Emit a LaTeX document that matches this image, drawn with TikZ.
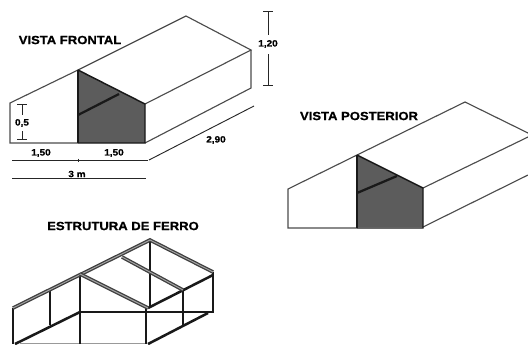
\documentclass[tikz,border=0pt]{standalone}
\usepackage{fontspec}
\setmainfont{Liberation Sans}
\newfontfamily\blackfont[FakeStretch=1.1,BoldFeatures={FakeBold=0.8}]{Liberation Sans}
\definecolor{panelgray}{gray}{0.36}
\definecolor{linegray}{gray}{0.3}
\tikzset{
  outline/.style={draw=linegray,line width=0.85pt},
  heavy/.style={draw=black!90,line width=1.7pt},
  title/.style={font=\blackfont\bfseries\fontsize{8.9}{10}\selectfont,inner sep=0pt},
  dimtext/.style={font=\blackfont\bfseries\fontsize{6.8}{8}\selectfont,inner sep=0pt},
  dimline/.style={draw=black!85,line width=0.7pt,|-|},
  dimplain/.style={draw=black!85,line width=0.7pt},
  ironbar/.style={draw=black!90,line width=1.9pt},
  ironrail/.style={draw=black!75,double=white!65!black,double distance=0.7pt,line width=1pt}
}
\begin{document}
\begin{tikzpicture}[x=0.75pt,y=-0.75pt]
    \useasboundingbox (0,0) rectangle (528,344);
    %% Front view
    \fill[panelgray] (78,70) -- (145,104) -- (145,143) -- (78,143) -- cycle;
    \draw[outline] (78,143) -- (10,143) -- (10,103) -- (78,70);
    \draw[outline] (78,70) -- (186,16) -- (251,50) -- (145,104);
    \draw[outline] (251,50) -- (251,88) -- (145,143);
    \draw[heavy] (78,143) -- (78,70);
    \draw[draw=black!90,line width=1.1pt] (78,70) -- (145,104) -- (145,143) -- (78,143);
    \draw[heavy] (78,115) -- (119,94);
    %% Front view dimensions
    \draw[dimline] (22,104) -- (22,140);
    \fill[white] (13,115) rectangle (31,131);
    \node[dimtext] (heightside) at (22,123) {0,5};
    \draw[dimline] (268,11) -- (268,86);
    \fill[white] (257,35) rectangle (280,54);
    \node[dimtext] (heightfull) at (268,44) {1,20};
    \draw[dimplain] (12,160) -- (148,160);
    \draw[dimplain] (78,158.5) -- (78,161.5);
    \node[dimtext] (spanleft) at (41,153) {1,50};
    \node[dimtext] (spanright) at (114,153) {1,50};
    \draw[dimplain] (12,178) -- (146,178);
    \node[dimtext] (spanfull) at (77,174) {3 m};
    \draw[dimplain] (149,160) -- (254,106);
    \node[dimtext] (depth) at (216,140) {2,90};
    \node[title] (frontlabel) at (70,40) {VISTA FRONTAL};
    %% Rear view
    \fill[panelgray] (357,155) -- (423,188) -- (423,227) -- (357,227) -- cycle;
    \draw[outline] (357,228) -- (288,228) -- (288,189) -- (357,155);
    \draw[outline] (357,155) -- (465,102) -- (528,133);
    \draw[outline] (423,188) -- (528,137);
    \draw[outline] (423,227) -- (528,175);
    \draw[heavy] (357,228) -- (357,155);
    \draw[draw=black!90,line width=1.1pt] (357,155) -- (423,188) -- (423,228) -- (357,228);
    \draw[heavy] (357,193) -- (397,176);
    \node[title] (rearlabel) at (359,116) {VISTA POSTERIOR};
    %% Iron frame
    \node[title] (framelabel) at (123,226) {ESTRUTURA DE FERRO};
    \draw[draw=black!40,line width=0.7pt] (20,343.5) -- (146,343.5);
    \draw[ironbar] (13,308) -- (13,344);
    \draw[ironbar] (50,290) -- (50,325);
    \draw[ironbar] (80,274) -- (80,344);
    \draw[ironbar] (150,240) -- (150,308);
    \draw[ironbar] (146,308) -- (146,344);
    \draw[ironbar] (183,290) -- (183,325);
    \draw[ironbar] (213,272) -- (213,313);
    \draw[ironbar] (80,312) -- (213,312);
    \draw[ironbar] (15,344) -- (80,312);
    \draw[ironbar] (148,344) -- (208,313);
    \draw[ironbar] (148,308) -- (213,275);
    \draw[ironrail] (13,308) -- (150,240) -- (213,272);
    \draw[ironrail] (80,274) -- (148,308);
    \draw[ironrail] (122,257) -- (183,290);
\end{tikzpicture}
\end{document}
